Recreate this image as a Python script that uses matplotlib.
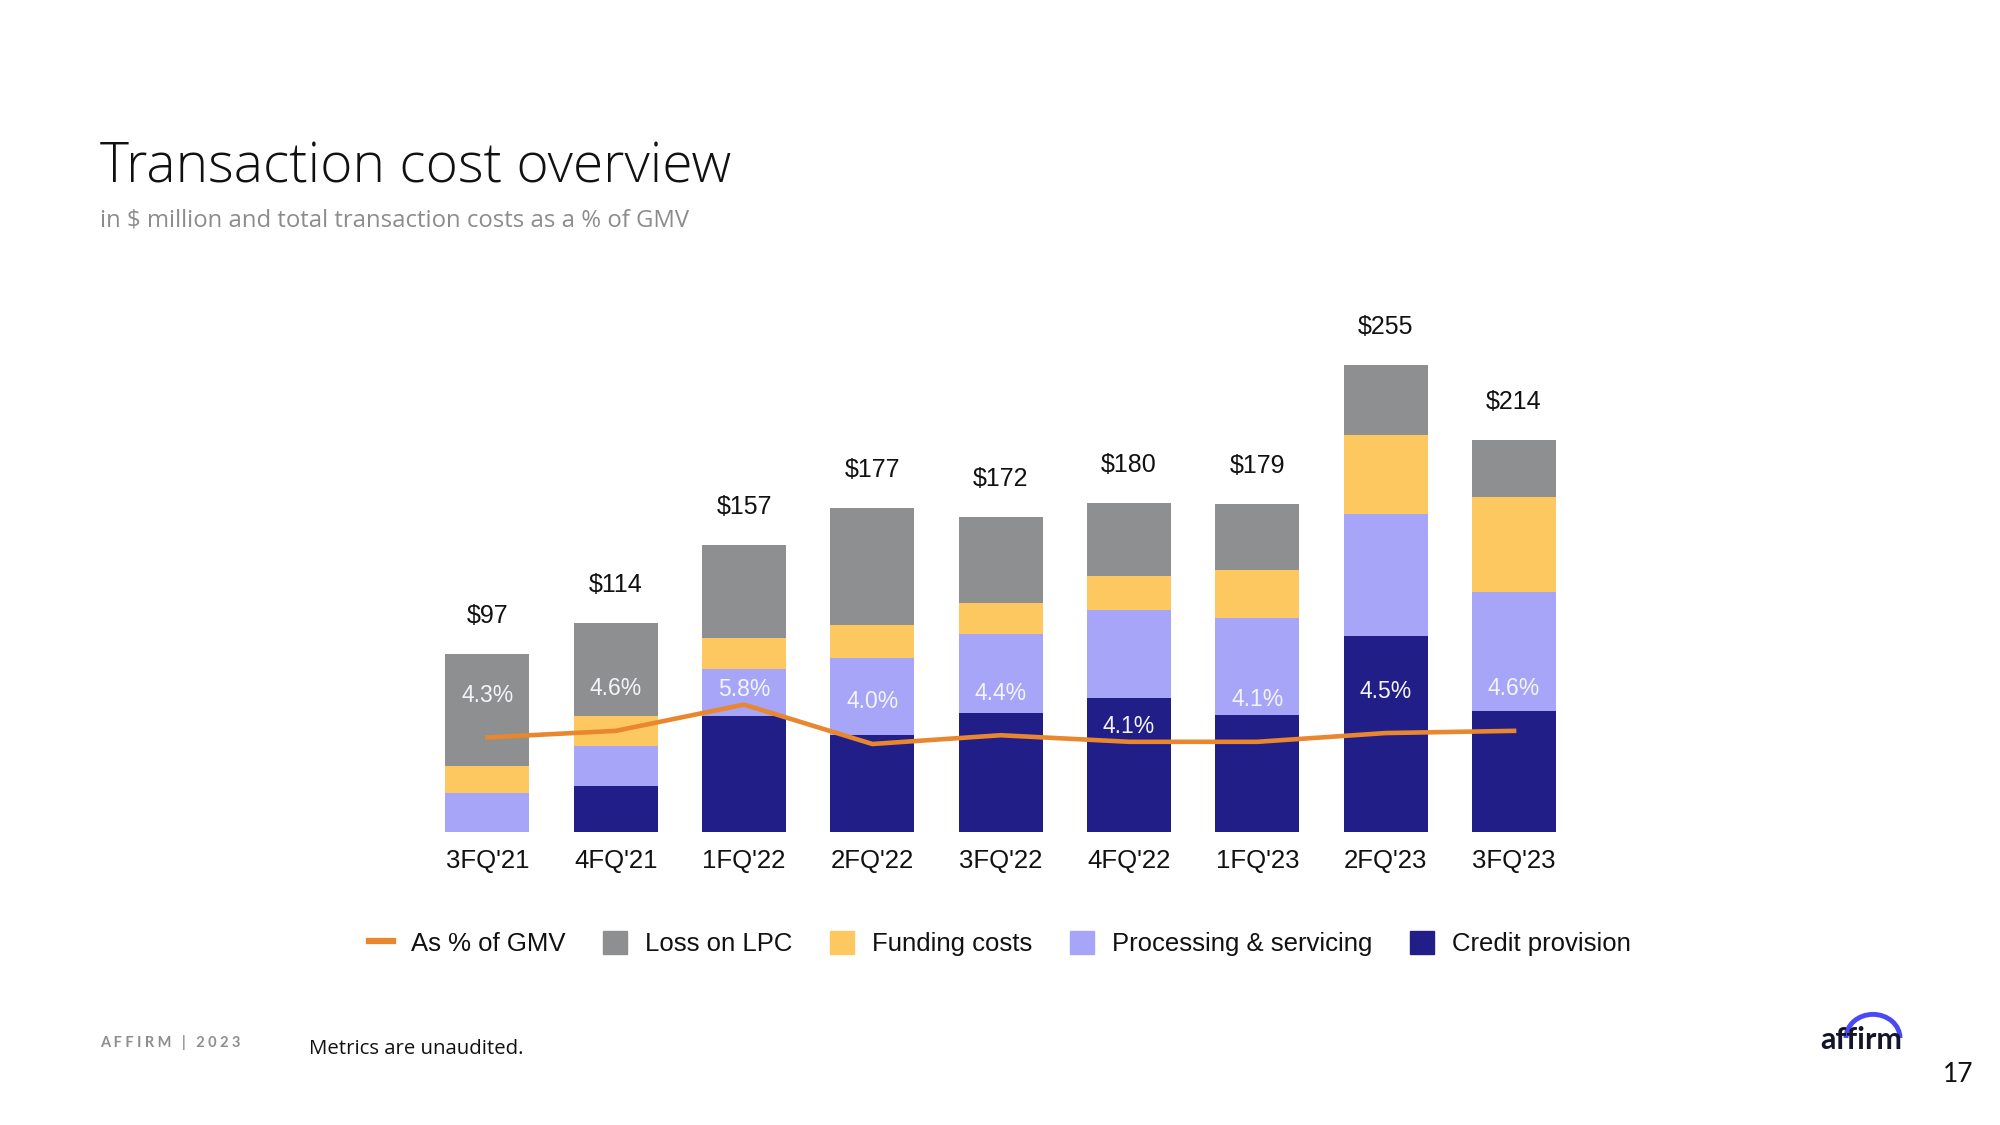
import matplotlib.pyplot as plt
import numpy as np
from matplotlib.patches import Patch, Arc
from matplotlib.lines import Line2D

quarters = ["3FQ'21", "4FQ'21", "1FQ'22", "2FQ'22", "3FQ'22", "4FQ'22", "1FQ'23", "2FQ'23", "3FQ'23"]
credit_provision = [0, 25, 63, 53, 65, 73, 64, 107, 66]
processing = [21, 22, 26, 42, 43, 48, 53, 67, 65]
funding_costs = [15, 16, 17, 18, 17, 19, 26, 43, 52]
loss_on_lpc = [61, 51, 51, 64, 47, 40, 36, 38, 31]
totals = [97, 114, 157, 177, 172, 180, 179, 255, 214]
pct_gmv = [4.3, 4.6, 5.8, 4.0, 4.4, 4.1, 4.1, 4.5, 4.6]

# colours
c_gray = '#8e8f91'
c_yellow = '#fdc860'
c_purple = '#a6a5f8'
c_navy = '#221e87'
c_orange = '#e8872e'

font = 'Liberation Sans'

fig = plt.figure(figsize=(20, 11.25), dpi=100)
ax = fig.add_axes([0.2116, 0.2608, 0.5775, 0.455])
x = np.arange(len(quarters))
w = 0.655

bottom = np.zeros(len(quarters))
for vals, col in [(credit_provision, c_navy), (processing, c_purple),
                  (funding_costs, c_yellow), (loss_on_lpc, c_gray)]:
    ax.bar(x, vals, w, bottom=bottom, color=col, linewidth=0, zorder=2)
    bottom += np.array(vals)

for i, t in enumerate(totals):
    ax.annotate(f'${t}', (x[i], bottom[i]), xytext=(0, 38), textcoords='offset pixels',
                ha='center', va='center', fontsize=18, family=font, color='#111111')

ax.set_xlim(-0.5, len(quarters) - 0.5)
ax.set_ylim(0, 280)
ax.set_xticks(x)
ax.set_xticklabels(quarters, family=font, fontsize=18.5, color='#111111')
ax.tick_params(length=0, pad=12.5)
ax.set_yticks([])
for s in ax.spines.values():
    s.set_visible(False)

# % of GMV on a twin axis
ax2 = ax.twinx()
ax2.set_ylim(0, 280 / 11.98)
ax2.plot(x, pct_gmv, color=c_orange, lw=3.3, zorder=3)
label_offsets = [42, 42, 15, 42, 42, 15, 42, 42, 42]
for i, p in enumerate(pct_gmv):
    ax2.annotate(f'{p:.1f}%', (x[i], p), xytext=(0, label_offsets[i]), textcoords='offset pixels',
                 ha='center', va='center', fontsize=16.5, family=font, color='#f4f4f8')
ax2.set_yticks([])
for s in ax2.spines.values():
    s.set_visible(False)

handles = [Line2D([0], [0], color=c_orange, lw=4.5),
           Patch(color=c_gray), Patch(color=c_yellow), Patch(color=c_purple), Patch(color=c_navy)]
labels = ['As % of GMV', 'Loss on LPC', 'Funding costs', 'Processing & servicing', 'Credit provision']
fig.legend(handles, labels, loc='center', bbox_to_anchor=(0.5, 0.161), ncol=5, frameon=False,
           prop={'family': font, 'size': 18.5}, handlelength=0.95, handleheight=0.95,
           handletextpad=0.7, columnspacing=1.45, labelcolor='#111111')

# page text
fig.text(0.0498, 1 - 168 / 1125, 'Transaction cost overview', family='Open Sans', weight='light',
         fontsize=39.7, va='center', ha='left', color='#111111')
fig.text(0.0498, 1 - 221 / 1125, 'in $ million and total transaction costs as a % of GMV', family='Open Sans',
         fontsize=17.2, va='center', ha='left', color='#8c8c8c')
fig.text(0.0498, 1 - 1043 / 1125, 'A F F I R M   |   2 0 2 3', family='Lato', weight='bold',
         fontsize=10.5, va='center', ha='left', color='#8e8e8e')
fig.text(0.1543, 1 - 1049 / 1125, 'Metrics are unaudited.', family='Open Sans',
         fontsize=14.7, va='center', ha='left', color='#111111')
fig.text(0.951, 1 - 1040 / 1125, 'affirm', family='Lato', weight='bold',
         fontsize=22, va='center', ha='right', color='#15152a')
fig.patches.append(Arc((0.9365, 1 - 1038 / 1125), 0.027, 0.042, theta1=0, theta2=180,
                       transform=fig.transFigure, color='#4a4af4', lw=3.5))
fig.text(0.979, 1 - 1075 / 1125, '17', family='Lato',
         fontsize=19, va='center', ha='center', color='#111111')

fig.savefig('out.png', dpi=100, facecolor='white')
